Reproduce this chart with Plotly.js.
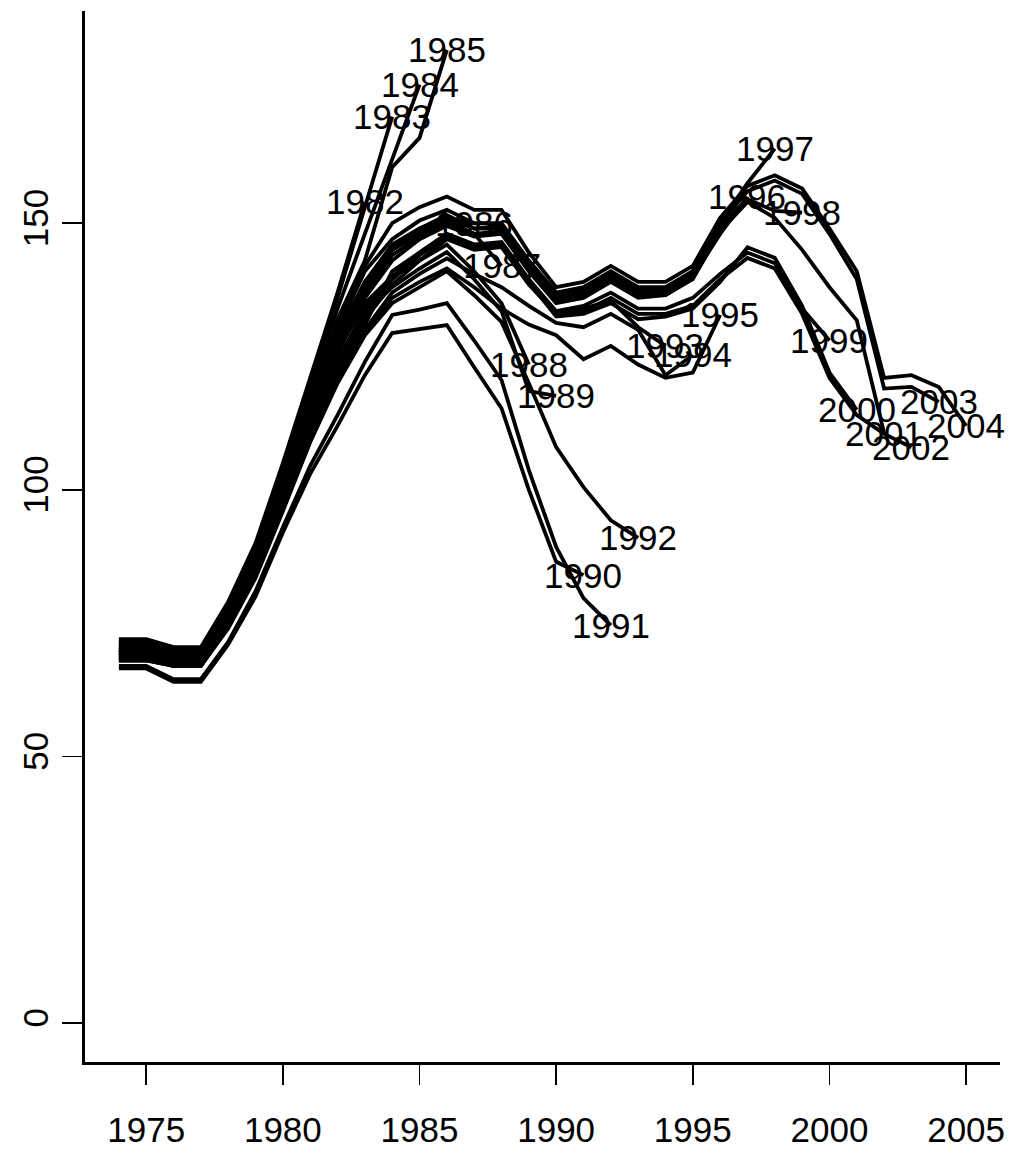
<!DOCTYPE html>
<html>
<head>
<meta charset="utf-8">
<script src="https://cdn.plot.ly/plotly-3.0.1.min.js"></script>
<style>
  html, body { margin: 0; padding: 0; background: #ffffff; }
  #chart { width: 1013px; height: 1152px; }
</style>
</head>
<body>
<div id="chart"></div>
<script>
// Retrospective runs: every run starts in 1974 and ends the year after its label.
const startYear = 1974;

const run1982 = [72, 72, 70.5, 70.5, 79, 90, 105, 121, 137, 154];
const run1983 = [71.5, 71.5, 70, 70, 78.5, 89.5, 104, 120, 136, 153, 170];
const run1984 = [71, 71, 69.5, 70, 78, 89, 103, 119, 134, 148, 162, 176];
const run1985 = [70.5, 70.5, 69, 69.5, 77.5, 88, 102, 117.5, 132, 143, 160.5, 166, 182.5];
const run1986 = [70, 70, 69, 69, 77, 87, 100.5, 115, 129, 139, 146, 149, 151, 150];
const run1987 = [70, 70, 68.5, 68.5, 76.5, 86.5, 100, 114, 127, 137, 145, 148, 150.5, 148, 142];
const run1988 = [69.5, 69.5, 68, 68, 76, 86, 99, 113, 126, 135, 140, 143, 146, 141, 135, 123.5];
const run1989 = [69.5, 69.5, 68, 68, 75.5, 85.5, 98.5, 112, 124.5, 133, 138, 141.5, 144.6, 139.5, 133.5, 118.5, 117.6];
const run1990 = [66.5, 66.5, 64, 64, 71, 80, 92, 103, 112, 121.5, 129.4, 130.2, 130.9, 123, 115.3, 100, 86.5, 84];
const run1991 = [67, 67, 64.5, 64.5, 71.5, 81, 93, 104.5, 114, 124, 132.8, 133.8, 135, 128, 120.6, 103.7, 89.3, 79.7, 74.6];
const run1992 = [69, 69, 67.5, 67.5, 74.5, 84, 96.5, 109, 120, 129, 135, 138, 141, 136.5, 131.5, 120, 108, 100.5, 94.3, 91];
const run1993 = [69, 69, 67.5, 67.5, 75, 84.5, 97, 110, 122, 131, 141, 144.5, 148, 146, 146, 139, 133, 134, 135.5, 130.5, 127];
const run1994 = [68.5, 68.5, 67, 67, 74.5, 84, 96.5, 109.5, 121, 130, 137, 140.5, 143.4, 140.5, 138, 134.5, 131.3, 130.5, 133, 130, 121.5, 125.3];
const run1995 = [68, 68, 67, 67, 74, 83.5, 96, 109, 120.5, 129.5, 136, 139, 141.5, 138, 134, 131, 129, 124.5, 127, 123.5, 121, 122, 132.8];
const run1996 = [69.5, 69.5, 68, 68, 76, 86, 99.5, 113.5, 127, 137, 144, 147.5, 150, 148, 148.5, 141.5, 135.5, 136.5, 139.5, 136.5, 136.5, 140, 148, 155];
const run1997 = [70, 70, 68.5, 68.5, 76.5, 87, 100.5, 115, 128.5, 139, 145.5, 149, 151.5, 149, 149, 142, 136.5, 137.5, 140.5, 137.5, 137.5, 141, 150, 157.5, 164];
const run1998 = [69.5, 69.5, 68, 68.5, 76, 86.5, 100, 114, 127.5, 138, 145, 148.5, 151, 149, 149.5, 142, 136, 137, 140, 137, 137, 140.5, 149.5, 154.5, 152.3, 152];
const run1999 = [68.5, 68.5, 67, 67, 75, 85, 98, 111.5, 124, 134, 140, 144.5, 148, 146, 146.5, 139.5, 133.5, 134.5, 137, 134, 134, 136, 140.5, 144.5, 142.5, 134, 128];
const run2000 = [68.5, 68.5, 67, 67, 74.5, 84.5, 97.5, 111, 123, 133, 139.5, 144, 147.5, 145.5, 146, 139, 132.5, 133, 135, 132, 132.5, 134, 139, 145.5, 143.5, 134.5, 122, 115];
const run2001 = [69, 69, 67.5, 67.5, 75.5, 85.5, 98.5, 112.5, 125.5, 136, 143, 147, 149.5, 147.5, 148, 141, 135, 136, 139, 136, 136.5, 139.5, 148.5, 154, 151, 145, 138, 131.8, 110.6];
const run2002 = [68, 68, 67, 67, 74.5, 84, 97, 110, 122.5, 132, 138.5, 143, 147, 145, 145.5, 138.5, 133, 133.5, 136, 133, 133, 134.5, 139.5, 143.5, 141.5, 133, 121, 114, 110.5, 108];
const run2003 = [70.5, 70.5, 69, 69, 77, 87.5, 101, 116, 130, 141, 147, 150.5, 152.5, 150, 150, 143, 137, 138, 141, 138, 138, 141, 150, 156, 158, 155.5, 148, 139.5, 119, 119.3, 116.5];
const run2004 = [71, 71, 69.5, 69.5, 77.5, 88, 102, 117, 131, 142, 150, 153, 155, 152.5, 152.5, 144.5, 138, 139, 142, 139, 139, 142, 151, 157, 159, 156.5, 149, 141, 121, 121.5, 119.3, 112];

const runLabels = ['1982', '1983', '1984', '1985', '1986', '1987', '1988', '1989', '1990', '1991', '1992',
                   '1993', '1994', '1995', '1996', '1997', '1998', '1999', '2000', '2001', '2002', '2003', '2004'];
const runSeries = [run1982, run1983, run1984, run1985, run1986, run1987, run1988, run1989, run1990, run1991, run1992,
                   run1993, run1994, run1995, run1996, run1997, run1998, run1999, run2000, run2001, run2002, run2003, run2004];

const xTickVals = [1975, 1980, 1985, 1990, 1995, 2000, 2005];
const xTickText = ['1975', '1980', '1985', '1990', '1995', '2000', '2005'];
const yTickVals = [0, 50, 100, 150];
const yTickText = ['0', '50', '100', '150'];

const FONT = 'Liberation Sans, Arial, Helvetica, sans-serif';

const traces = [];
const notes = [];
runSeries.forEach(function (vals, i) {
  const xs = vals.map(function (_, k) { return startYear + k; });
  traces.push({
    type: 'scatter',
    mode: 'lines',
    x: xs,
    y: vals,
    line: { color: '#000000', width: 3.8 },
    hoverinfo: 'skip',
    showlegend: false
  });
  notes.push({
    x: xs[xs.length - 1],
    y: vals[vals.length - 1],
    xref: 'x',
    yref: 'y',
    text: runLabels[i],
    showarrow: false,
    xanchor: 'center',
    yanchor: 'middle',
    font: { family: FONT, size: 35, color: '#000000' }
  });
});

// Axis ranges padded by 4% on each side of the data extent (y anchored at 0).
const xMin = startYear;
const xMax = startYear + run2004.length - 1;
const xPad = 0.04 * (xMax - xMin);
const yTop = Math.max.apply(null, runSeries.map(function (s) { return Math.max.apply(null, s); }));
const yPad = 0.04 * yTop;

const layout = {
  width: 1013,
  height: 1152,
  margin: { l: 85, r: 13, t: 11, b: 90 },
  paper_bgcolor: '#ffffff',
  plot_bgcolor: '#ffffff',
  showlegend: false,
  font: { family: FONT, size: 34, color: '#000000' },
  xaxis: {
    range: [xMin - xPad, xMax + xPad],
    tickmode: 'array',
    tickvals: xTickVals,
    ticktext: xTickText,
    ticks: 'outside',
    ticklen: 20,
    tickwidth: 1.5,
    tickcolor: '#000000',
    showline: true,
    linewidth: 3,
    linecolor: '#000000',
    showgrid: false,
    zeroline: false,
    ticklabelstandoff: 15,
    tickfont: { family: FONT, size: 35, color: '#000000' }
  },
  yaxis: {
    range: [0 - yPad, yTop + yPad],
    tickmode: 'array',
    tickvals: yTickVals,
    ticktext: yTickText,
    tickangle: -90,
    ticks: 'outside',
    ticklen: 20,
    tickwidth: 1.5,
    tickcolor: '#000000',
    showline: true,
    linewidth: 3,
    linecolor: '#000000',
    showgrid: false,
    zeroline: false,
    ticklabelstandoff: 0,
    tickfont: { family: FONT, size: 35, color: '#000000' }
  },
  annotations: notes
};

Plotly.newPlot('chart', traces, layout, { displayModeBar: false, staticPlot: true });
</script>
</body>
</html>
